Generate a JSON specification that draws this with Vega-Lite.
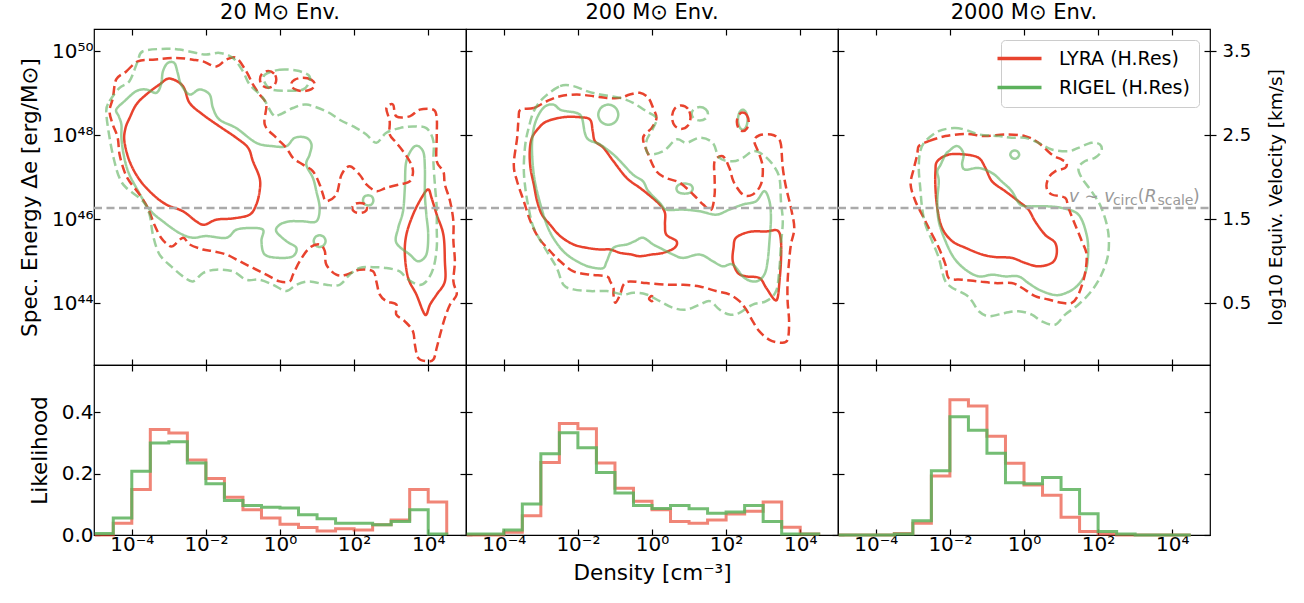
{
"$schema": "https://vega.github.io/schema/vega-lite/v6.json",
"background": "white",
"padding": {"left": 18, "top": 1, "right": 0, "bottom": 0},
"config": {
 "font": "DejaVu Sans",
 "view": {"stroke": "black", "strokeWidth": 1.2},
 "axis": {"domain": false, "grid": false, "tickColor": "black", "tickWidth": 1.2, "labelColor": "black", "titleColor": "black", "labelFont": "DejaVu Sans", "titleFont": "DejaVu Sans", "labelFontSize": 20, "titleFontSize": 21.5, "titleFontWeight": "normal", "labelOverlap": false, "labelFlush": false, "labelBound": false},
 "title": {"font": "DejaVu Sans", "fontSize": 21, "fontWeight": "normal", "color": "black", "offset": 5}
},
"datasets": {
"contours": [
{"p":1,"m":"L","d":"s","g":"1a","x":-2.98,"y":49.35},{"p":1,"m":"L","d":"s","g":"1a","x":-2.62,"y":49.17},{"p":1,"m":"L","d":"s","g":"1a","x":-2.44,"y":48.77},{"p":1,"m":"L","d":"s","g":"1a","x":-2.08,"y":48.49},{"p":1,"m":"L","d":"s","g":"1a","x":-1.63,"y":48.21},{"p":1,"m":"L","d":"s","g":"1a","x":-1.18,"y":47.94},{"p":1,"m":"L","d":"s","g":"1a","x":-0.86,"y":47.70},{"p":1,"m":"L","d":"s","g":"1a","x":-0.73,"y":47.38},{"p":1,"m":"L","d":"s","g":"1a","x":-0.55,"y":46.98},{"p":1,"m":"L","d":"s","g":"1a","x":-0.55,"y":46.67},{"p":1,"m":"L","d":"s","g":"1a","x":-0.64,"y":46.35},{"p":1,"m":"L","d":"s","g":"1a","x":-0.82,"y":46.11},{"p":1,"m":"L","d":"s","g":"1a","x":-1.27,"y":46.02},{"p":1,"m":"L","d":"s","g":"1a","x":-1.72,"y":45.99},{"p":1,"m":"L","d":"s","g":"1a","x":-2.04,"y":45.87},{"p":1,"m":"L","d":"s","g":"1a","x":-2.26,"y":45.95},{"p":1,"m":"L","d":"s","g":"1a","x":-2.62,"y":46.19},{"p":1,"m":"L","d":"s","g":"1a","x":-3.07,"y":46.35},{"p":1,"m":"L","d":"s","g":"1a","x":-3.43,"y":46.59},{"p":1,"m":"L","d":"s","g":"1a","x":-3.79,"y":46.94},{"p":1,"m":"L","d":"s","g":"1a","x":-4.06,"y":47.38},{"p":1,"m":"L","d":"s","g":"1a","x":-4.20,"y":47.86},{"p":1,"m":"L","d":"s","g":"1a","x":-4.17,"y":48.17},{"p":1,"m":"L","d":"s","g":"1a","x":-4.06,"y":48.41},{"p":1,"m":"L","d":"s","g":"1a","x":-3.88,"y":48.73},{"p":1,"m":"L","d":"s","g":"1a","x":-3.61,"y":48.97},{"p":1,"m":"L","d":"s","g":"1a","x":-3.25,"y":49.21},
{"p":1,"m":"L","d":"s","g":"1b","x":4.00,"y":46.71},{"p":1,"m":"L","d":"s","g":"1b","x":4.09,"y":46.51},{"p":1,"m":"L","d":"s","g":"1b","x":4.23,"y":46.11},{"p":1,"m":"L","d":"s","g":"1b","x":4.41,"y":45.63},{"p":1,"m":"L","d":"s","g":"1b","x":4.45,"y":45.00},{"p":1,"m":"L","d":"s","g":"1b","x":4.45,"y":44.52},{"p":1,"m":"L","d":"s","g":"1b","x":4.23,"y":44.21},{"p":1,"m":"L","d":"s","g":"1b","x":4.05,"y":43.97},{"p":1,"m":"L","d":"s","g":"1b","x":3.95,"y":43.73},{"p":1,"m":"L","d":"s","g":"1b","x":3.86,"y":43.81},{"p":1,"m":"L","d":"s","g":"1b","x":3.68,"y":44.21},{"p":1,"m":"L","d":"s","g":"1b","x":3.46,"y":44.60},{"p":1,"m":"L","d":"s","g":"1b","x":3.37,"y":45.16},{"p":1,"m":"L","d":"s","g":"1b","x":3.41,"y":45.63},{"p":1,"m":"L","d":"s","g":"1b","x":3.59,"y":46.11},{"p":1,"m":"L","d":"s","g":"1b","x":3.82,"y":46.51},
{"p":1,"m":"R","d":"s","g":"1c","x":-3.03,"y":49.72},{"p":1,"m":"R","d":"s","g":"1c","x":-2.85,"y":49.72},{"p":1,"m":"R","d":"s","g":"1c","x":-2.76,"y":49.48},{"p":1,"m":"R","d":"s","g":"1c","x":-2.67,"y":49.21},{"p":1,"m":"R","d":"s","g":"1c","x":-2.44,"y":48.97},{"p":1,"m":"R","d":"s","g":"1c","x":-2.17,"y":49.09},{"p":1,"m":"R","d":"s","g":"1c","x":-1.90,"y":48.97},{"p":1,"m":"R","d":"s","g":"1c","x":-1.81,"y":48.65},{"p":1,"m":"R","d":"s","g":"1c","x":-1.63,"y":48.37},{"p":1,"m":"R","d":"s","g":"1c","x":-1.18,"y":48.17},{"p":1,"m":"R","d":"s","g":"1c","x":-0.64,"y":47.82},{"p":1,"m":"R","d":"s","g":"1c","x":-0.19,"y":47.74},{"p":1,"m":"R","d":"s","g":"1c","x":0.17,"y":47.74},{"p":1,"m":"R","d":"s","g":"1c","x":0.40,"y":47.94},{"p":1,"m":"R","d":"s","g":"1c","x":0.71,"y":47.94},{"p":1,"m":"R","d":"s","g":"1c","x":0.85,"y":47.78},{"p":1,"m":"R","d":"s","g":"1c","x":0.80,"y":47.54},{"p":1,"m":"R","d":"s","g":"1c","x":0.71,"y":47.30},{"p":1,"m":"R","d":"s","g":"1c","x":0.89,"y":46.98},{"p":1,"m":"R","d":"s","g":"1c","x":0.98,"y":46.67},{"p":1,"m":"R","d":"s","g":"1c","x":1.07,"y":46.27},{"p":1,"m":"R","d":"s","g":"1c","x":0.98,"y":45.95},{"p":1,"m":"R","d":"s","g":"1c","x":0.62,"y":45.95},{"p":1,"m":"R","d":"s","g":"1c","x":0.26,"y":45.95},{"p":1,"m":"R","d":"s","g":"1c","x":-0.01,"y":45.87},{"p":1,"m":"R","d":"s","g":"1c","x":-0.10,"y":45.71},{"p":1,"m":"R","d":"s","g":"1c","x":0.17,"y":45.48},{"p":1,"m":"R","d":"s","g":"1c","x":0.44,"y":45.32},{"p":1,"m":"R","d":"s","g":"1c","x":0.35,"y":45.12},{"p":1,"m":"R","d":"s","g":"1c","x":-0.01,"y":45.08},{"p":1,"m":"R","d":"s","g":"1c","x":-0.41,"y":45.16},{"p":1,"m":"R","d":"s","g":"1c","x":-0.50,"y":45.48},{"p":1,"m":"R","d":"s","g":"1c","x":-0.46,"y":45.75},{"p":1,"m":"R","d":"s","g":"1c","x":-0.82,"y":45.79},{"p":1,"m":"R","d":"s","g":"1c","x":-1.18,"y":45.75},{"p":1,"m":"R","d":"s","g":"1c","x":-1.45,"y":45.56},{"p":1,"m":"R","d":"s","g":"1c","x":-1.99,"y":45.60},{"p":1,"m":"R","d":"s","g":"1c","x":-2.35,"y":45.56},{"p":1,"m":"R","d":"s","g":"1c","x":-2.71,"y":45.67},{"p":1,"m":"R","d":"s","g":"1c","x":-3.16,"y":45.95},{"p":1,"m":"R","d":"s","g":"1c","x":-3.52,"y":46.23},{"p":1,"m":"R","d":"s","g":"1c","x":-3.88,"y":46.75},{"p":1,"m":"R","d":"s","g":"1c","x":-4.10,"y":47.14},{"p":1,"m":"R","d":"s","g":"1c","x":-4.22,"y":47.54},{"p":1,"m":"R","d":"s","g":"1c","x":-4.28,"y":47.94},{"p":1,"m":"R","d":"s","g":"1c","x":-4.28,"y":48.25},{"p":1,"m":"R","d":"s","g":"1c","x":-4.35,"y":48.45},{"p":1,"m":"R","d":"s","g":"1c","x":-4.42,"y":48.61},{"p":1,"m":"R","d":"s","g":"1c","x":-4.20,"y":48.81},{"p":1,"m":"R","d":"s","g":"1c","x":-3.88,"y":49.05},{"p":1,"m":"R","d":"s","g":"1c","x":-3.61,"y":49.09},{"p":1,"m":"R","d":"s","g":"1c","x":-3.34,"y":49.01},{"p":1,"m":"R","d":"s","g":"1c","x":-3.21,"y":49.21},{"p":1,"m":"R","d":"s","g":"1c","x":-3.16,"y":49.52},
{"p":1,"m":"R","d":"s","g":"1d","x":3.64,"y":47.74},{"p":1,"m":"R","d":"s","g":"1d","x":3.86,"y":47.62},{"p":1,"m":"R","d":"s","g":"1d","x":3.91,"y":47.22},{"p":1,"m":"R","d":"s","g":"1d","x":3.91,"y":46.59},{"p":1,"m":"R","d":"s","g":"1d","x":3.95,"y":46.11},{"p":1,"m":"R","d":"s","g":"1d","x":4.00,"y":45.63},{"p":1,"m":"R","d":"s","g":"1d","x":3.95,"y":45.16},{"p":1,"m":"R","d":"s","g":"1d","x":3.73,"y":45.00},{"p":1,"m":"R","d":"s","g":"1d","x":3.50,"y":45.16},{"p":1,"m":"R","d":"s","g":"1d","x":3.14,"y":45.44},{"p":1,"m":"R","d":"s","g":"1d","x":3.19,"y":45.79},{"p":1,"m":"R","d":"s","g":"1d","x":3.32,"y":46.19},{"p":1,"m":"R","d":"s","g":"1d","x":3.37,"y":46.75},{"p":1,"m":"R","d":"s","g":"1d","x":3.41,"y":47.38},
{"p":1,"m":"R","d":"s","g":"1e","x":2.52,"y":46.45},{"p":1,"m":"R","d":"s","g":"1e","x":2.48,"y":46.54},{"p":1,"m":"R","d":"s","g":"1e","x":2.38,"y":46.57},{"p":1,"m":"R","d":"s","g":"1e","x":2.28,"y":46.54},{"p":1,"m":"R","d":"s","g":"1e","x":2.24,"y":46.45},{"p":1,"m":"R","d":"s","g":"1e","x":2.28,"y":46.36},{"p":1,"m":"R","d":"s","g":"1e","x":2.38,"y":46.33},{"p":1,"m":"R","d":"s","g":"1e","x":2.48,"y":46.36},
{"p":1,"m":"R","d":"s","g":"1f","x":1.23,"y":45.48},{"p":1,"m":"R","d":"s","g":"1f","x":1.18,"y":45.58},{"p":1,"m":"R","d":"s","g":"1f","x":1.07,"y":45.62},{"p":1,"m":"R","d":"s","g":"1f","x":0.96,"y":45.58},{"p":1,"m":"R","d":"s","g":"1f","x":0.91,"y":45.48},{"p":1,"m":"R","d":"s","g":"1f","x":0.96,"y":45.38},{"p":1,"m":"R","d":"s","g":"1f","x":1.07,"y":45.34},{"p":1,"m":"R","d":"s","g":"1f","x":1.18,"y":45.38},
{"p":1,"m":"L","d":"d","g":"1g","x":-4.42,"y":49.33},{"p":1,"m":"L","d":"d","g":"1g","x":-4.15,"y":49.52},{"p":1,"m":"L","d":"d","g":"1g","x":-3.84,"y":49.76},{"p":1,"m":"L","d":"d","g":"1g","x":-3.43,"y":49.80},{"p":1,"m":"L","d":"d","g":"1g","x":-2.80,"y":49.84},{"p":1,"m":"L","d":"d","g":"1g","x":-2.35,"y":49.80},{"p":1,"m":"L","d":"d","g":"1g","x":-2.08,"y":49.76},{"p":1,"m":"L","d":"d","g":"1g","x":-1.72,"y":49.64},{"p":1,"m":"L","d":"d","g":"1g","x":-1.45,"y":49.80},{"p":1,"m":"L","d":"d","g":"1g","x":-1.18,"y":49.84},{"p":1,"m":"L","d":"d","g":"1g","x":-0.91,"y":49.52},{"p":1,"m":"L","d":"d","g":"1g","x":-0.73,"y":49.21},{"p":1,"m":"L","d":"d","g":"1g","x":-0.55,"y":48.97},{"p":1,"m":"L","d":"d","g":"1g","x":-0.37,"y":48.73},{"p":1,"m":"L","d":"d","g":"1g","x":-0.41,"y":48.25},{"p":1,"m":"L","d":"d","g":"1g","x":-0.10,"y":47.94},{"p":1,"m":"L","d":"d","g":"1g","x":0.17,"y":47.70},{"p":1,"m":"L","d":"d","g":"1g","x":0.35,"y":47.46},{"p":1,"m":"L","d":"d","g":"1g","x":0.62,"y":47.30},{"p":1,"m":"L","d":"d","g":"1g","x":0.89,"y":47.14},{"p":1,"m":"L","d":"d","g":"1g","x":1.07,"y":46.83},{"p":1,"m":"L","d":"d","g":"1g","x":1.16,"y":46.59},{"p":1,"m":"L","d":"d","g":"1g","x":1.25,"y":46.43},{"p":1,"m":"L","d":"d","g":"1g","x":1.52,"y":46.59},{"p":1,"m":"L","d":"d","g":"1g","x":1.66,"y":47.06},{"p":1,"m":"L","d":"d","g":"1g","x":1.88,"y":47.26},{"p":1,"m":"L","d":"d","g":"1g","x":2.15,"y":47.06},{"p":1,"m":"L","d":"d","g":"1g","x":2.33,"y":46.83},{"p":1,"m":"L","d":"d","g":"1g","x":2.60,"y":46.67},{"p":1,"m":"L","d":"d","g":"1g","x":2.87,"y":46.75},{"p":1,"m":"L","d":"d","g":"1g","x":3.23,"y":46.83},{"p":1,"m":"L","d":"d","g":"1g","x":3.50,"y":46.90},{"p":1,"m":"L","d":"d","g":"1g","x":3.59,"y":47.14},{"p":1,"m":"L","d":"d","g":"1g","x":3.50,"y":47.38},{"p":1,"m":"L","d":"d","g":"1g","x":3.32,"y":47.62},{"p":1,"m":"L","d":"d","g":"1g","x":3.14,"y":47.82},{"p":1,"m":"L","d":"d","g":"1g","x":2.96,"y":48.02},{"p":1,"m":"L","d":"d","g":"1g","x":2.96,"y":48.33},{"p":1,"m":"L","d":"d","g":"1g","x":2.87,"y":48.65},{"p":1,"m":"L","d":"d","g":"1g","x":3.05,"y":48.73},{"p":1,"m":"L","d":"d","g":"1g","x":3.14,"y":48.45},{"p":1,"m":"L","d":"d","g":"1g","x":3.50,"y":48.45},{"p":1,"m":"L","d":"d","g":"1g","x":3.77,"y":48.61},{"p":1,"m":"L","d":"d","g":"1g","x":4.14,"y":48.61},{"p":1,"m":"L","d":"d","g":"1g","x":4.23,"y":48.41},{"p":1,"m":"L","d":"d","g":"1g","x":4.23,"y":47.94},{"p":1,"m":"L","d":"d","g":"1g","x":4.23,"y":47.38},{"p":1,"m":"L","d":"d","g":"1g","x":4.41,"y":47.14},{"p":1,"m":"L","d":"d","g":"1g","x":4.45,"y":46.83},{"p":1,"m":"L","d":"d","g":"1g","x":4.59,"y":46.43},{"p":1,"m":"L","d":"d","g":"1g","x":4.68,"y":45.95},{"p":1,"m":"L","d":"d","g":"1g","x":4.68,"y":45.48},{"p":1,"m":"L","d":"d","g":"1g","x":4.72,"y":45.00},{"p":1,"m":"L","d":"d","g":"1g","x":4.68,"y":44.52},{"p":1,"m":"L","d":"d","g":"1g","x":4.77,"y":44.21},{"p":1,"m":"L","d":"d","g":"1g","x":4.59,"y":43.97},{"p":1,"m":"L","d":"d","g":"1g","x":4.45,"y":43.65},{"p":1,"m":"L","d":"d","g":"1g","x":4.32,"y":43.25},{"p":1,"m":"L","d":"d","g":"1g","x":4.23,"y":42.94},{"p":1,"m":"L","d":"d","g":"1g","x":4.14,"y":42.66},{"p":1,"m":"L","d":"d","g":"1g","x":3.95,"y":42.62},{"p":1,"m":"L","d":"d","g":"1g","x":3.73,"y":42.70},{"p":1,"m":"L","d":"d","g":"1g","x":3.64,"y":43.02},{"p":1,"m":"L","d":"d","g":"1g","x":3.59,"y":43.33},{"p":1,"m":"L","d":"d","g":"1g","x":3.37,"y":43.57},{"p":1,"m":"L","d":"d","g":"1g","x":3.14,"y":43.73},{"p":1,"m":"L","d":"d","g":"1g","x":3.14,"y":43.97},{"p":1,"m":"L","d":"d","g":"1g","x":2.87,"y":44.05},{"p":1,"m":"L","d":"d","g":"1g","x":2.69,"y":44.21},{"p":1,"m":"L","d":"d","g":"1g","x":2.60,"y":44.52},{"p":1,"m":"L","d":"d","g":"1g","x":2.51,"y":44.76},{"p":1,"m":"L","d":"d","g":"1g","x":2.15,"y":44.80},{"p":1,"m":"L","d":"d","g":"1g","x":1.79,"y":44.68},{"p":1,"m":"L","d":"d","g":"1g","x":1.52,"y":44.68},{"p":1,"m":"L","d":"d","g":"1g","x":1.25,"y":44.92},{"p":1,"m":"L","d":"d","g":"1g","x":1.21,"y":45.24},{"p":1,"m":"L","d":"d","g":"1g","x":1.07,"y":45.40},{"p":1,"m":"L","d":"d","g":"1g","x":0.80,"y":45.32},{"p":1,"m":"L","d":"d","g":"1g","x":0.53,"y":45.00},{"p":1,"m":"L","d":"d","g":"1g","x":0.35,"y":44.68},{"p":1,"m":"L","d":"d","g":"1g","x":0.26,"y":44.52},{"p":1,"m":"L","d":"d","g":"1g","x":-0.01,"y":44.52},{"p":1,"m":"L","d":"d","g":"1g","x":-0.37,"y":44.68},{"p":1,"m":"L","d":"d","g":"1g","x":-0.73,"y":44.84},{"p":1,"m":"L","d":"d","g":"1g","x":-1.09,"y":45.00},{"p":1,"m":"L","d":"d","g":"1g","x":-1.45,"y":45.16},{"p":1,"m":"L","d":"d","g":"1g","x":-1.81,"y":45.24},{"p":1,"m":"L","d":"d","g":"1g","x":-2.08,"y":45.28},{"p":1,"m":"L","d":"d","g":"1g","x":-2.44,"y":45.40},{"p":1,"m":"L","d":"d","g":"1g","x":-2.62,"y":45.56},{"p":1,"m":"L","d":"d","g":"1g","x":-2.89,"y":45.36},{"p":1,"m":"L","d":"d","g":"1g","x":-3.03,"y":45.40},{"p":1,"m":"L","d":"d","g":"1g","x":-3.21,"y":45.56},{"p":1,"m":"L","d":"d","g":"1g","x":-3.39,"y":45.87},{"p":1,"m":"L","d":"d","g":"1g","x":-3.57,"y":46.27},{"p":1,"m":"L","d":"d","g":"1g","x":-3.79,"y":46.59},{"p":1,"m":"L","d":"d","g":"1g","x":-4.06,"y":46.90},{"p":1,"m":"L","d":"d","g":"1g","x":-4.20,"y":47.14},{"p":1,"m":"L","d":"d","g":"1g","x":-4.33,"y":47.54},{"p":1,"m":"L","d":"d","g":"1g","x":-4.38,"y":47.94},{"p":1,"m":"L","d":"d","g":"1g","x":-4.51,"y":48.25},{"p":1,"m":"L","d":"d","g":"1g","x":-4.60,"y":48.57},{"p":1,"m":"L","d":"d","g":"1g","x":-4.51,"y":48.89},
{"p":1,"m":"L","d":"d","g":"1h","x":-0.10,"y":49.33},{"p":1,"m":"L","d":"d","g":"1h","x":-0.16,"y":49.47},{"p":1,"m":"L","d":"d","g":"1h","x":-0.32,"y":49.53},{"p":1,"m":"L","d":"d","g":"1h","x":-0.48,"y":49.47},{"p":1,"m":"L","d":"d","g":"1h","x":-0.54,"y":49.33},{"p":1,"m":"L","d":"d","g":"1h","x":-0.48,"y":49.19},{"p":1,"m":"L","d":"d","g":"1h","x":-0.32,"y":49.13},{"p":1,"m":"L","d":"d","g":"1h","x":-0.16,"y":49.19},
{"p":1,"m":"L","d":"d","g":"1i","x":0.94,"y":49.21},{"p":1,"m":"L","d":"d","g":"1i","x":0.85,"y":49.32},{"p":1,"m":"L","d":"d","g":"1i","x":0.62,"y":49.37},{"p":1,"m":"L","d":"d","g":"1i","x":0.39,"y":49.32},{"p":1,"m":"L","d":"d","g":"1i","x":0.30,"y":49.21},{"p":1,"m":"L","d":"d","g":"1i","x":0.39,"y":49.10},{"p":1,"m":"L","d":"d","g":"1i","x":0.62,"y":49.05},{"p":1,"m":"L","d":"d","g":"1i","x":0.85,"y":49.10},
{"p":1,"m":"L","d":"d","g":"1j","x":2.35,"y":46.27},{"p":1,"m":"L","d":"d","g":"1j","x":2.29,"y":46.36},{"p":1,"m":"L","d":"d","g":"1j","x":2.15,"y":46.39},{"p":1,"m":"L","d":"d","g":"1j","x":2.01,"y":46.36},{"p":1,"m":"L","d":"d","g":"1j","x":1.95,"y":46.27},{"p":1,"m":"L","d":"d","g":"1j","x":2.01,"y":46.18},{"p":1,"m":"L","d":"d","g":"1j","x":2.15,"y":46.15},{"p":1,"m":"L","d":"d","g":"1j","x":2.29,"y":46.18},
{"p":1,"m":"R","d":"d","g":"1k","x":-4.69,"y":48.57},{"p":1,"m":"R","d":"d","g":"1k","x":-4.60,"y":48.81},{"p":1,"m":"R","d":"d","g":"1k","x":-4.33,"y":49.13},{"p":1,"m":"R","d":"d","g":"1k","x":-4.06,"y":49.29},{"p":1,"m":"R","d":"d","g":"1k","x":-3.84,"y":49.76},{"p":1,"m":"R","d":"d","g":"1k","x":-3.70,"y":50.00},{"p":1,"m":"R","d":"d","g":"1k","x":-3.07,"y":50.06},{"p":1,"m":"R","d":"d","g":"1k","x":-2.71,"y":50.04},{"p":1,"m":"R","d":"d","g":"1k","x":-2.26,"y":49.96},{"p":1,"m":"R","d":"d","g":"1k","x":-1.99,"y":49.92},{"p":1,"m":"R","d":"d","g":"1k","x":-1.63,"y":49.96},{"p":1,"m":"R","d":"d","g":"1k","x":-1.27,"y":49.84},{"p":1,"m":"R","d":"d","g":"1k","x":-1.00,"y":49.52},{"p":1,"m":"R","d":"d","g":"1k","x":-0.82,"y":49.21},{"p":1,"m":"R","d":"d","g":"1k","x":-0.46,"y":48.89},{"p":1,"m":"R","d":"d","g":"1k","x":-0.19,"y":48.49},{"p":1,"m":"R","d":"d","g":"1k","x":-0.01,"y":48.49},{"p":1,"m":"R","d":"d","g":"1k","x":0.35,"y":48.65},{"p":1,"m":"R","d":"d","g":"1k","x":0.71,"y":48.73},{"p":1,"m":"R","d":"d","g":"1k","x":1.25,"y":48.57},{"p":1,"m":"R","d":"d","g":"1k","x":1.61,"y":48.37},{"p":1,"m":"R","d":"d","g":"1k","x":2.06,"y":48.17},{"p":1,"m":"R","d":"d","g":"1k","x":2.33,"y":48.02},{"p":1,"m":"R","d":"d","g":"1k","x":2.60,"y":47.82},{"p":1,"m":"R","d":"d","g":"1k","x":2.87,"y":48.06},{"p":1,"m":"R","d":"d","g":"1k","x":3.23,"y":48.17},{"p":1,"m":"R","d":"d","g":"1k","x":3.59,"y":48.21},{"p":1,"m":"R","d":"d","g":"1k","x":3.95,"y":48.17},{"p":1,"m":"R","d":"d","g":"1k","x":4.14,"y":47.86},{"p":1,"m":"R","d":"d","g":"1k","x":4.14,"y":47.38},{"p":1,"m":"R","d":"d","g":"1k","x":4.18,"y":46.83},{"p":1,"m":"R","d":"d","g":"1k","x":4.23,"y":46.27},{"p":1,"m":"R","d":"d","g":"1k","x":4.23,"y":45.79},{"p":1,"m":"R","d":"d","g":"1k","x":4.23,"y":45.32},{"p":1,"m":"R","d":"d","g":"1k","x":4.14,"y":44.84},{"p":1,"m":"R","d":"d","g":"1k","x":3.95,"y":44.52},{"p":1,"m":"R","d":"d","g":"1k","x":3.73,"y":44.44},{"p":1,"m":"R","d":"d","g":"1k","x":3.41,"y":44.60},{"p":1,"m":"R","d":"d","g":"1k","x":3.23,"y":44.76},{"p":1,"m":"R","d":"d","g":"1k","x":2.87,"y":44.84},{"p":1,"m":"R","d":"d","g":"1k","x":2.51,"y":44.86},{"p":1,"m":"R","d":"d","g":"1k","x":2.15,"y":44.84},{"p":1,"m":"R","d":"d","g":"1k","x":1.88,"y":44.68},{"p":1,"m":"R","d":"d","g":"1k","x":1.61,"y":44.44},{"p":1,"m":"R","d":"d","g":"1k","x":1.25,"y":44.44},{"p":1,"m":"R","d":"d","g":"1k","x":0.80,"y":44.52},{"p":1,"m":"R","d":"d","g":"1k","x":0.44,"y":44.44},{"p":1,"m":"R","d":"d","g":"1k","x":0.17,"y":44.29},{"p":1,"m":"R","d":"d","g":"1k","x":-0.19,"y":44.44},{"p":1,"m":"R","d":"d","g":"1k","x":-0.55,"y":44.56},{"p":1,"m":"R","d":"d","g":"1k","x":-0.91,"y":44.56},{"p":1,"m":"R","d":"d","g":"1k","x":-1.27,"y":44.76},{"p":1,"m":"R","d":"d","g":"1k","x":-1.72,"y":44.80},{"p":1,"m":"R","d":"d","g":"1k","x":-2.08,"y":44.72},{"p":1,"m":"R","d":"d","g":"1k","x":-2.35,"y":44.52},{"p":1,"m":"R","d":"d","g":"1k","x":-2.62,"y":44.64},{"p":1,"m":"R","d":"d","g":"1k","x":-2.89,"y":44.84},{"p":1,"m":"R","d":"d","g":"1k","x":-3.25,"y":45.16},{"p":1,"m":"R","d":"d","g":"1k","x":-3.43,"y":45.63},{"p":1,"m":"R","d":"d","g":"1k","x":-3.52,"y":46.11},{"p":1,"m":"R","d":"d","g":"1k","x":-3.70,"y":46.43},{"p":1,"m":"R","d":"d","g":"1k","x":-4.15,"y":46.75},{"p":1,"m":"R","d":"d","g":"1k","x":-4.33,"y":46.98},{"p":1,"m":"R","d":"d","g":"1k","x":-4.47,"y":47.38},{"p":1,"m":"R","d":"d","g":"1k","x":-4.60,"y":47.94},
{"p":1,"m":"R","d":"d","g":"1l","x":-0.41,"y":49.44},{"p":1,"m":"R","d":"d","g":"1l","x":-0.01,"y":49.56},{"p":1,"m":"R","d":"d","g":"1l","x":0.44,"y":49.54},{"p":1,"m":"R","d":"d","g":"1l","x":0.76,"y":49.44},{"p":1,"m":"R","d":"d","g":"1l","x":0.80,"y":49.29},{"p":1,"m":"R","d":"d","g":"1l","x":0.62,"y":49.09},{"p":1,"m":"R","d":"d","g":"1l","x":0.17,"y":49.06},{"p":1,"m":"R","d":"d","g":"1l","x":-0.23,"y":49.09},{"p":1,"m":"R","d":"d","g":"1l","x":-0.41,"y":49.25},
{"p":2,"m":"L","d":"s","g":"2a","x":-2.84,"y":48.33},{"p":2,"m":"L","d":"s","g":"2a","x":-2.39,"y":48.43},{"p":2,"m":"L","d":"s","g":"2a","x":-1.94,"y":48.43},{"p":2,"m":"L","d":"s","g":"2a","x":-1.67,"y":48.37},{"p":2,"m":"L","d":"s","g":"2a","x":-1.60,"y":48.10},{"p":2,"m":"L","d":"s","g":"2a","x":-1.54,"y":47.86},{"p":2,"m":"L","d":"s","g":"2a","x":-1.31,"y":47.70},{"p":2,"m":"L","d":"s","g":"2a","x":-1.04,"y":47.38},{"p":2,"m":"L","d":"s","g":"2a","x":-0.68,"y":46.98},{"p":2,"m":"L","d":"s","g":"2a","x":-0.33,"y":46.75},{"p":2,"m":"L","d":"s","g":"2a","x":-0.10,"y":46.59},{"p":2,"m":"L","d":"s","g":"2a","x":0.21,"y":46.35},{"p":2,"m":"L","d":"s","g":"2a","x":0.35,"y":46.15},{"p":2,"m":"L","d":"s","g":"2a","x":0.35,"y":45.87},{"p":2,"m":"L","d":"s","g":"2a","x":0.39,"y":45.63},{"p":2,"m":"L","d":"s","g":"2a","x":0.66,"y":45.48},{"p":2,"m":"L","d":"s","g":"2a","x":0.61,"y":45.32},{"p":2,"m":"L","d":"s","g":"2a","x":0.30,"y":45.20},{"p":2,"m":"L","d":"s","g":"2a","x":-0.01,"y":45.16},{"p":2,"m":"L","d":"s","g":"2a","x":-0.33,"y":45.12},{"p":2,"m":"L","d":"s","g":"2a","x":-0.55,"y":45.16},{"p":2,"m":"L","d":"s","g":"2a","x":-0.86,"y":45.20},{"p":2,"m":"L","d":"s","g":"2a","x":-1.13,"y":45.28},{"p":2,"m":"L","d":"s","g":"2a","x":-1.40,"y":45.28},{"p":2,"m":"L","d":"s","g":"2a","x":-1.76,"y":45.32},{"p":2,"m":"L","d":"s","g":"2a","x":-2.12,"y":45.40},{"p":2,"m":"L","d":"s","g":"2a","x":-2.48,"y":45.60},{"p":2,"m":"L","d":"s","g":"2a","x":-2.75,"y":45.87},{"p":2,"m":"L","d":"s","g":"2a","x":-2.97,"y":46.11},{"p":2,"m":"L","d":"s","g":"2a","x":-3.10,"y":46.43},{"p":2,"m":"L","d":"s","g":"2a","x":-3.19,"y":46.83},{"p":2,"m":"L","d":"s","g":"2a","x":-3.28,"y":47.22},{"p":2,"m":"L","d":"s","g":"2a","x":-3.30,"y":47.62},{"p":2,"m":"L","d":"s","g":"2a","x":-3.24,"y":47.94},{"p":2,"m":"L","d":"s","g":"2a","x":-3.06,"y":48.17},
{"p":2,"m":"L","d":"s","g":"2b","x":2.27,"y":45.56},{"p":2,"m":"L","d":"s","g":"2b","x":2.63,"y":45.70},{"p":2,"m":"L","d":"s","g":"2b","x":3.08,"y":45.71},{"p":2,"m":"L","d":"s","g":"2b","x":3.39,"y":45.73},{"p":2,"m":"L","d":"s","g":"2b","x":3.48,"y":45.48},{"p":2,"m":"L","d":"s","g":"2b","x":3.48,"y":45.00},{"p":2,"m":"L","d":"s","g":"2b","x":3.44,"y":44.52},{"p":2,"m":"L","d":"s","g":"2b","x":3.39,"y":44.13},{"p":2,"m":"L","d":"s","g":"2b","x":3.30,"y":44.09},{"p":2,"m":"L","d":"s","g":"2b","x":3.08,"y":44.37},{"p":2,"m":"L","d":"s","g":"2b","x":2.90,"y":44.60},{"p":2,"m":"L","d":"s","g":"2b","x":2.54,"y":44.64},{"p":2,"m":"L","d":"s","g":"2b","x":2.32,"y":44.72},{"p":2,"m":"L","d":"s","g":"2b","x":2.18,"y":45.00},{"p":2,"m":"L","d":"s","g":"2b","x":2.20,"y":45.32},
{"p":2,"m":"R","d":"s","g":"2c","x":-2.66,"y":48.73},{"p":2,"m":"R","d":"s","g":"2c","x":-2.48,"y":48.61},{"p":2,"m":"R","d":"s","g":"2c","x":-2.30,"y":48.57},{"p":2,"m":"R","d":"s","g":"2c","x":-2.03,"y":48.53},{"p":2,"m":"R","d":"s","g":"2c","x":-1.89,"y":48.41},{"p":2,"m":"R","d":"s","g":"2c","x":-1.76,"y":47.94},{"p":2,"m":"R","d":"s","g":"2c","x":-1.40,"y":47.78},{"p":2,"m":"R","d":"s","g":"2c","x":-1.04,"y":47.54},{"p":2,"m":"R","d":"s","g":"2c","x":-0.77,"y":47.30},{"p":2,"m":"R","d":"s","g":"2c","x":-0.51,"y":47.06},{"p":2,"m":"R","d":"s","g":"2c","x":-0.24,"y":46.90},{"p":2,"m":"R","d":"s","g":"2c","x":-0.10,"y":46.67},{"p":2,"m":"R","d":"s","g":"2c","x":0.21,"y":46.39},{"p":2,"m":"R","d":"s","g":"2c","x":0.39,"y":46.23},{"p":2,"m":"R","d":"s","g":"2c","x":0.84,"y":46.23},{"p":2,"m":"R","d":"s","g":"2c","x":1.29,"y":46.19},{"p":2,"m":"R","d":"s","g":"2c","x":1.73,"y":46.11},{"p":2,"m":"R","d":"s","g":"2c","x":2.09,"y":46.23},{"p":2,"m":"R","d":"s","g":"2c","x":2.45,"y":46.35},{"p":2,"m":"R","d":"s","g":"2c","x":2.81,"y":46.43},{"p":2,"m":"R","d":"s","g":"2c","x":3.03,"y":46.67},{"p":2,"m":"R","d":"s","g":"2c","x":3.17,"y":46.43},{"p":2,"m":"R","d":"s","g":"2c","x":3.21,"y":46.03},{"p":2,"m":"R","d":"s","g":"2c","x":3.17,"y":45.48},{"p":2,"m":"R","d":"s","g":"2c","x":3.12,"y":45.00},{"p":2,"m":"R","d":"s","g":"2c","x":3.03,"y":44.68},{"p":2,"m":"R","d":"s","g":"2c","x":2.81,"y":44.52},{"p":2,"m":"R","d":"s","g":"2c","x":2.50,"y":44.60},{"p":2,"m":"R","d":"s","g":"2c","x":2.18,"y":44.92},{"p":2,"m":"R","d":"s","g":"2c","x":1.91,"y":44.88},{"p":2,"m":"R","d":"s","g":"2c","x":1.64,"y":45.00},{"p":2,"m":"R","d":"s","g":"2c","x":1.29,"y":45.16},{"p":2,"m":"R","d":"s","g":"2c","x":0.84,"y":45.08},{"p":2,"m":"R","d":"s","g":"2c","x":0.57,"y":45.16},{"p":2,"m":"R","d":"s","g":"2c","x":0.21,"y":45.32},{"p":2,"m":"R","d":"s","g":"2c","x":0.03,"y":45.40},{"p":2,"m":"R","d":"s","g":"2c","x":-0.24,"y":45.56},{"p":2,"m":"R","d":"s","g":"2c","x":-0.46,"y":45.48},{"p":2,"m":"R","d":"s","g":"2c","x":-0.68,"y":45.40},{"p":2,"m":"R","d":"s","g":"2c","x":-1.04,"y":45.32},{"p":2,"m":"R","d":"s","g":"2c","x":-1.22,"y":45.00},{"p":2,"m":"R","d":"s","g":"2c","x":-1.31,"y":44.84},{"p":2,"m":"R","d":"s","g":"2c","x":-1.54,"y":44.84},{"p":2,"m":"R","d":"s","g":"2c","x":-1.85,"y":44.92},{"p":2,"m":"R","d":"s","g":"2c","x":-2.30,"y":45.16},{"p":2,"m":"R","d":"s","g":"2c","x":-2.61,"y":45.48},{"p":2,"m":"R","d":"s","g":"2c","x":-2.84,"y":45.87},{"p":2,"m":"R","d":"s","g":"2c","x":-3.06,"y":46.51},{"p":2,"m":"R","d":"s","g":"2c","x":-3.19,"y":47.06},{"p":2,"m":"R","d":"s","g":"2c","x":-3.24,"y":47.70},{"p":2,"m":"R","d":"s","g":"2c","x":-3.19,"y":48.17},{"p":2,"m":"R","d":"s","g":"2c","x":-3.06,"y":48.49},{"p":2,"m":"R","d":"s","g":"2c","x":-2.88,"y":48.69},
{"p":2,"m":"R","d":"s","g":"2d","x":-0.91,"y":48.49},{"p":2,"m":"R","d":"s","g":"2d","x":-0.99,"y":48.66},{"p":2,"m":"R","d":"s","g":"2d","x":-1.18,"y":48.73},{"p":2,"m":"R","d":"s","g":"2d","x":-1.37,"y":48.66},{"p":2,"m":"R","d":"s","g":"2d","x":-1.45,"y":48.49},{"p":2,"m":"R","d":"s","g":"2d","x":-1.37,"y":48.32},{"p":2,"m":"R","d":"s","g":"2d","x":-1.18,"y":48.25},{"p":2,"m":"R","d":"s","g":"2d","x":-0.99,"y":48.32},
{"p":2,"m":"R","d":"s","g":"2e","x":1.10,"y":46.73},{"p":2,"m":"R","d":"s","g":"2e","x":1.04,"y":46.82},{"p":2,"m":"R","d":"s","g":"2e","x":0.88,"y":46.85},{"p":2,"m":"R","d":"s","g":"2e","x":0.72,"y":46.82},{"p":2,"m":"R","d":"s","g":"2e","x":0.66,"y":46.73},{"p":2,"m":"R","d":"s","g":"2e","x":0.72,"y":46.64},{"p":2,"m":"R","d":"s","g":"2e","x":0.88,"y":46.61},{"p":2,"m":"R","d":"s","g":"2e","x":1.04,"y":46.64},
{"p":2,"m":"R","d":"s","g":"2f","x":2.58,"y":48.37},{"p":2,"m":"R","d":"s","g":"2f","x":2.54,"y":48.54},{"p":2,"m":"R","d":"s","g":"2f","x":2.45,"y":48.61},{"p":2,"m":"R","d":"s","g":"2f","x":2.36,"y":48.54},{"p":2,"m":"R","d":"s","g":"2f","x":2.32,"y":48.37},{"p":2,"m":"R","d":"s","g":"2f","x":2.36,"y":48.20},{"p":2,"m":"R","d":"s","g":"2f","x":2.45,"y":48.13},{"p":2,"m":"R","d":"s","g":"2f","x":2.54,"y":48.20},
{"p":2,"m":"R","d":"d","g":"2g","x":1.51,"y":48.51},{"p":2,"m":"R","d":"d","g":"2g","x":1.45,"y":48.62},{"p":2,"m":"R","d":"d","g":"2g","x":1.29,"y":48.67},{"p":2,"m":"R","d":"d","g":"2g","x":1.13,"y":48.62},{"p":2,"m":"R","d":"d","g":"2g","x":1.07,"y":48.51},{"p":2,"m":"R","d":"d","g":"2g","x":1.13,"y":48.40},{"p":2,"m":"R","d":"d","g":"2g","x":1.29,"y":48.35},{"p":2,"m":"R","d":"d","g":"2g","x":1.45,"y":48.40},
{"p":2,"m":"L","d":"d","g":"2h","x":-3.55,"y":48.61},{"p":2,"m":"L","d":"d","g":"2h","x":-3.19,"y":48.65},{"p":2,"m":"L","d":"d","g":"2h","x":-2.84,"y":48.81},{"p":2,"m":"L","d":"d","g":"2h","x":-2.48,"y":48.93},{"p":2,"m":"L","d":"d","g":"2h","x":-2.03,"y":48.97},{"p":2,"m":"L","d":"d","g":"2h","x":-1.58,"y":48.93},{"p":2,"m":"L","d":"d","g":"2h","x":-1.22,"y":48.89},{"p":2,"m":"L","d":"d","g":"2h","x":-0.86,"y":48.89},{"p":2,"m":"L","d":"d","g":"2h","x":-0.60,"y":48.97},{"p":2,"m":"L","d":"d","g":"2h","x":-0.33,"y":49.01},{"p":2,"m":"L","d":"d","g":"2h","x":-0.10,"y":48.89},{"p":2,"m":"L","d":"d","g":"2h","x":0.03,"y":48.65},{"p":2,"m":"L","d":"d","g":"2h","x":0.12,"y":48.41},{"p":2,"m":"L","d":"d","g":"2h","x":-0.01,"y":48.17},{"p":2,"m":"L","d":"d","g":"2h","x":-0.24,"y":47.94},{"p":2,"m":"L","d":"d","g":"2h","x":-0.10,"y":47.54},{"p":2,"m":"L","d":"d","g":"2h","x":0.12,"y":47.14},{"p":2,"m":"L","d":"d","g":"2h","x":0.39,"y":46.98},{"p":2,"m":"L","d":"d","g":"2h","x":0.75,"y":46.87},{"p":2,"m":"L","d":"d","g":"2h","x":1.11,"y":46.59},{"p":2,"m":"L","d":"d","g":"2h","x":1.38,"y":46.35},{"p":2,"m":"L","d":"d","g":"2h","x":1.60,"y":46.23},{"p":2,"m":"L","d":"d","g":"2h","x":1.69,"y":46.59},{"p":2,"m":"L","d":"d","g":"2h","x":1.69,"y":46.98},{"p":2,"m":"L","d":"d","g":"2h","x":1.69,"y":47.38},{"p":2,"m":"L","d":"d","g":"2h","x":1.91,"y":47.50},{"p":2,"m":"L","d":"d","g":"2h","x":2.09,"y":47.22},{"p":2,"m":"L","d":"d","g":"2h","x":2.20,"y":46.90},{"p":2,"m":"L","d":"d","g":"2h","x":2.45,"y":46.59},{"p":2,"m":"L","d":"d","g":"2h","x":2.72,"y":46.59},{"p":2,"m":"L","d":"d","g":"2h","x":2.94,"y":46.83},{"p":2,"m":"L","d":"d","g":"2h","x":2.99,"y":47.22},{"p":2,"m":"L","d":"d","g":"2h","x":2.90,"y":47.54},{"p":2,"m":"L","d":"d","g":"2h","x":2.76,"y":47.86},{"p":2,"m":"L","d":"d","g":"2h","x":2.90,"y":48.00},{"p":2,"m":"L","d":"d","g":"2h","x":3.21,"y":48.02},{"p":2,"m":"L","d":"d","g":"2h","x":3.39,"y":47.94},{"p":2,"m":"L","d":"d","g":"2h","x":3.48,"y":47.78},{"p":2,"m":"L","d":"d","g":"2h","x":3.53,"y":47.22},{"p":2,"m":"L","d":"d","g":"2h","x":3.62,"y":46.75},{"p":2,"m":"L","d":"d","g":"2h","x":3.75,"y":46.27},{"p":2,"m":"L","d":"d","g":"2h","x":3.84,"y":45.79},{"p":2,"m":"L","d":"d","g":"2h","x":3.75,"y":45.40},{"p":2,"m":"L","d":"d","g":"2h","x":3.70,"y":45.00},{"p":2,"m":"L","d":"d","g":"2h","x":3.66,"y":44.52},{"p":2,"m":"L","d":"d","g":"2h","x":3.66,"y":44.05},{"p":2,"m":"L","d":"d","g":"2h","x":3.70,"y":43.57},{"p":2,"m":"L","d":"d","g":"2h","x":3.66,"y":43.13},{"p":2,"m":"L","d":"d","g":"2h","x":3.48,"y":43.06},{"p":2,"m":"L","d":"d","g":"2h","x":3.17,"y":43.13},{"p":2,"m":"L","d":"d","g":"2h","x":2.90,"y":43.33},{"p":2,"m":"L","d":"d","g":"2h","x":2.72,"y":43.57},{"p":2,"m":"L","d":"d","g":"2h","x":2.54,"y":43.85},{"p":2,"m":"L","d":"d","g":"2h","x":2.36,"y":44.05},{"p":2,"m":"L","d":"d","g":"2h","x":2.09,"y":44.21},{"p":2,"m":"L","d":"d","g":"2h","x":1.73,"y":44.29},{"p":2,"m":"L","d":"d","g":"2h","x":1.29,"y":44.40},{"p":2,"m":"L","d":"d","g":"2h","x":0.84,"y":44.44},{"p":2,"m":"L","d":"d","g":"2h","x":0.39,"y":44.44},{"p":2,"m":"L","d":"d","g":"2h","x":-0.15,"y":44.48},{"p":2,"m":"L","d":"d","g":"2h","x":-0.60,"y":44.52},{"p":2,"m":"L","d":"d","g":"2h","x":-0.77,"y":44.44},{"p":2,"m":"L","d":"d","g":"2h","x":-0.86,"y":44.21},{"p":2,"m":"L","d":"d","g":"2h","x":-0.99,"y":44.01},{"p":2,"m":"L","d":"d","g":"2h","x":-1.04,"y":44.21},{"p":2,"m":"L","d":"d","g":"2h","x":-1.04,"y":44.37},{"p":2,"m":"L","d":"d","g":"2h","x":-1.13,"y":44.52},{"p":2,"m":"L","d":"d","g":"2h","x":-1.22,"y":44.64},{"p":2,"m":"L","d":"d","g":"2h","x":-1.67,"y":44.68},{"p":2,"m":"L","d":"d","g":"2h","x":-2.12,"y":44.76},{"p":2,"m":"L","d":"d","g":"2h","x":-2.48,"y":45.00},{"p":2,"m":"L","d":"d","g":"2h","x":-2.75,"y":45.24},{"p":2,"m":"L","d":"d","g":"2h","x":-3.06,"y":45.56},{"p":2,"m":"L","d":"d","g":"2h","x":-3.28,"y":45.95},{"p":2,"m":"L","d":"d","g":"2h","x":-3.46,"y":46.43},{"p":2,"m":"L","d":"d","g":"2h","x":-3.64,"y":46.90},{"p":2,"m":"L","d":"d","g":"2h","x":-3.73,"y":47.30},{"p":2,"m":"L","d":"d","g":"2h","x":-3.64,"y":47.94},{"p":2,"m":"L","d":"d","g":"2h","x":-3.60,"y":48.41},
{"p":2,"m":"L","d":"d","g":"2i","x":1.04,"y":48.43},{"p":2,"m":"L","d":"d","g":"2i","x":0.97,"y":48.63},{"p":2,"m":"L","d":"d","g":"2i","x":0.79,"y":48.71},{"p":2,"m":"L","d":"d","g":"2i","x":0.61,"y":48.63},{"p":2,"m":"L","d":"d","g":"2i","x":0.54,"y":48.43},{"p":2,"m":"L","d":"d","g":"2i","x":0.61,"y":48.23},{"p":2,"m":"L","d":"d","g":"2i","x":0.79,"y":48.15},{"p":2,"m":"L","d":"d","g":"2i","x":0.97,"y":48.23},
{"p":2,"m":"L","d":"d","g":"2j","x":2.61,"y":48.32},{"p":2,"m":"L","d":"d","g":"2j","x":2.56,"y":48.48},{"p":2,"m":"L","d":"d","g":"2j","x":2.45,"y":48.54},{"p":2,"m":"L","d":"d","g":"2j","x":2.34,"y":48.48},{"p":2,"m":"L","d":"d","g":"2j","x":2.29,"y":48.32},{"p":2,"m":"L","d":"d","g":"2j","x":2.34,"y":48.16},{"p":2,"m":"L","d":"d","g":"2j","x":2.45,"y":48.10},{"p":2,"m":"L","d":"d","g":"2j","x":2.56,"y":48.16},
{"p":2,"m":"L","d":"d","g":"2k","x":0.06,"y":44.11},{"p":2,"m":"L","d":"d","g":"2k","x":-0.01,"y":44.17},{"p":2,"m":"L","d":"d","g":"2k","x":-0.08,"y":44.11},{"p":2,"m":"L","d":"d","g":"2k","x":-0.01,"y":44.05},
{"p":2,"m":"R","d":"d","g":"2l","x":-2.93,"y":48.89},{"p":2,"m":"R","d":"d","g":"2l","x":-2.48,"y":49.17},{"p":2,"m":"R","d":"d","g":"2l","x":-2.12,"y":49.17},{"p":2,"m":"R","d":"d","g":"2l","x":-1.76,"y":49.05},{"p":2,"m":"R","d":"d","g":"2l","x":-1.40,"y":48.97},{"p":2,"m":"R","d":"d","g":"2l","x":-0.86,"y":48.89},{"p":2,"m":"R","d":"d","g":"2l","x":-0.51,"y":48.77},{"p":2,"m":"R","d":"d","g":"2l","x":-0.15,"y":48.57},{"p":2,"m":"R","d":"d","g":"2l","x":0.12,"y":48.41},{"p":2,"m":"R","d":"d","g":"2l","x":0.03,"y":48.17},{"p":2,"m":"R","d":"d","g":"2l","x":-0.15,"y":47.86},{"p":2,"m":"R","d":"d","g":"2l","x":-0.10,"y":47.56},{"p":2,"m":"R","d":"d","g":"2l","x":0.30,"y":47.62},{"p":2,"m":"R","d":"d","g":"2l","x":0.66,"y":47.90},{"p":2,"m":"R","d":"d","g":"2l","x":0.93,"y":47.82},{"p":2,"m":"R","d":"d","g":"2l","x":1.29,"y":47.94},{"p":2,"m":"R","d":"d","g":"2l","x":1.64,"y":47.82},{"p":2,"m":"R","d":"d","g":"2l","x":1.82,"y":47.46},{"p":2,"m":"R","d":"d","g":"2l","x":2.18,"y":47.38},{"p":2,"m":"R","d":"d","g":"2l","x":2.45,"y":47.46},{"p":2,"m":"R","d":"d","g":"2l","x":2.72,"y":47.62},{"p":2,"m":"R","d":"d","g":"2l","x":2.99,"y":47.54},{"p":2,"m":"R","d":"d","g":"2l","x":3.26,"y":47.30},{"p":2,"m":"R","d":"d","g":"2l","x":3.44,"y":46.98},{"p":2,"m":"R","d":"d","g":"2l","x":3.48,"y":46.43},{"p":2,"m":"R","d":"d","g":"2l","x":3.53,"y":45.95},{"p":2,"m":"R","d":"d","g":"2l","x":3.48,"y":45.40},{"p":2,"m":"R","d":"d","g":"2l","x":3.44,"y":44.84},{"p":2,"m":"R","d":"d","g":"2l","x":3.35,"y":44.29},{"p":2,"m":"R","d":"d","g":"2l","x":3.08,"y":44.05},{"p":2,"m":"R","d":"d","g":"2l","x":2.72,"y":43.97},{"p":2,"m":"R","d":"d","g":"2l","x":2.36,"y":43.77},{"p":2,"m":"R","d":"d","g":"2l","x":2.09,"y":43.73},{"p":2,"m":"R","d":"d","g":"2l","x":1.82,"y":43.85},{"p":2,"m":"R","d":"d","g":"2l","x":1.56,"y":44.05},{"p":2,"m":"R","d":"d","g":"2l","x":1.29,"y":43.97},{"p":2,"m":"R","d":"d","g":"2l","x":0.93,"y":43.85},{"p":2,"m":"R","d":"d","g":"2l","x":0.57,"y":43.89},{"p":2,"m":"R","d":"d","g":"2l","x":0.21,"y":44.05},{"p":2,"m":"R","d":"d","g":"2l","x":-0.15,"y":44.21},{"p":2,"m":"R","d":"d","g":"2l","x":-0.51,"y":44.25},{"p":2,"m":"R","d":"d","g":"2l","x":-0.77,"y":44.21},{"p":2,"m":"R","d":"d","g":"2l","x":-1.22,"y":44.29},{"p":2,"m":"R","d":"d","g":"2l","x":-1.67,"y":44.29},{"p":2,"m":"R","d":"d","g":"2l","x":-2.12,"y":44.33},{"p":2,"m":"R","d":"d","g":"2l","x":-2.39,"y":44.44},{"p":2,"m":"R","d":"d","g":"2l","x":-2.57,"y":44.84},{"p":2,"m":"R","d":"d","g":"2l","x":-2.84,"y":45.24},{"p":2,"m":"R","d":"d","g":"2l","x":-3.19,"y":45.79},{"p":2,"m":"R","d":"d","g":"2l","x":-3.33,"y":46.27},{"p":2,"m":"R","d":"d","g":"2l","x":-3.42,"y":46.75},{"p":2,"m":"R","d":"d","g":"2l","x":-3.46,"y":47.22},{"p":2,"m":"R","d":"d","g":"2l","x":-3.42,"y":47.78},{"p":2,"m":"R","d":"d","g":"2l","x":-3.33,"y":48.17},{"p":2,"m":"R","d":"d","g":"2l","x":-3.19,"y":48.57},
{"p":3,"m":"L","d":"s","g":"3a","x":-2.34,"y":47.38},{"p":3,"m":"L","d":"s","g":"3a","x":-2.03,"y":47.54},{"p":3,"m":"L","d":"s","g":"3a","x":-1.58,"y":47.54},{"p":3,"m":"L","d":"s","g":"3a","x":-1.22,"y":47.46},{"p":3,"m":"L","d":"s","g":"3a","x":-1.04,"y":47.22},{"p":3,"m":"L","d":"s","g":"3a","x":-0.86,"y":46.90},{"p":3,"m":"L","d":"s","g":"3a","x":-0.51,"y":46.67},{"p":3,"m":"L","d":"s","g":"3a","x":-0.15,"y":46.43},{"p":3,"m":"L","d":"s","g":"3a","x":0.12,"y":46.23},{"p":3,"m":"L","d":"s","g":"3a","x":0.30,"y":45.95},{"p":3,"m":"L","d":"s","g":"3a","x":0.57,"y":45.63},{"p":3,"m":"L","d":"s","g":"3a","x":0.84,"y":45.44},{"p":3,"m":"L","d":"s","g":"3a","x":0.88,"y":45.16},{"p":3,"m":"L","d":"s","g":"3a","x":0.75,"y":44.96},{"p":3,"m":"L","d":"s","g":"3a","x":0.39,"y":44.88},{"p":3,"m":"L","d":"s","g":"3a","x":0.03,"y":44.96},{"p":3,"m":"L","d":"s","g":"3a","x":-0.33,"y":45.08},{"p":3,"m":"L","d":"s","g":"3a","x":-0.77,"y":45.10},{"p":3,"m":"L","d":"s","g":"3a","x":-1.13,"y":45.16},{"p":3,"m":"L","d":"s","g":"3a","x":-1.58,"y":45.32},{"p":3,"m":"L","d":"s","g":"3a","x":-1.94,"y":45.48},{"p":3,"m":"L","d":"s","g":"3a","x":-2.21,"y":45.79},{"p":3,"m":"L","d":"s","g":"3a","x":-2.34,"y":46.27},{"p":3,"m":"L","d":"s","g":"3a","x":-2.39,"y":46.75},{"p":3,"m":"L","d":"s","g":"3a","x":-2.39,"y":47.14},
{"p":3,"m":"R","d":"s","g":"3b","x":-2.03,"y":47.62},{"p":3,"m":"R","d":"s","g":"3b","x":-1.85,"y":47.74},{"p":3,"m":"R","d":"s","g":"3b","x":-1.72,"y":47.70},{"p":3,"m":"R","d":"s","g":"3b","x":-1.63,"y":47.54},{"p":3,"m":"R","d":"s","g":"3b","x":-1.67,"y":47.30},{"p":3,"m":"R","d":"s","g":"3b","x":-1.58,"y":47.18},{"p":3,"m":"R","d":"s","g":"3b","x":-1.22,"y":47.22},{"p":3,"m":"R","d":"s","g":"3b","x":-0.86,"y":47.10},{"p":3,"m":"R","d":"s","g":"3b","x":-0.60,"y":46.90},{"p":3,"m":"R","d":"s","g":"3b","x":-0.33,"y":46.67},{"p":3,"m":"R","d":"s","g":"3b","x":-0.10,"y":46.35},{"p":3,"m":"R","d":"s","g":"3b","x":0.21,"y":46.31},{"p":3,"m":"R","d":"s","g":"3b","x":0.57,"y":46.31},{"p":3,"m":"R","d":"s","g":"3b","x":1.02,"y":46.27},{"p":3,"m":"R","d":"s","g":"3b","x":1.47,"y":46.11},{"p":3,"m":"R","d":"s","g":"3b","x":1.69,"y":45.63},{"p":3,"m":"R","d":"s","g":"3b","x":1.73,"y":45.16},{"p":3,"m":"R","d":"s","g":"3b","x":1.64,"y":44.68},{"p":3,"m":"R","d":"s","g":"3b","x":1.38,"y":44.37},{"p":3,"m":"R","d":"s","g":"3b","x":1.02,"y":44.21},{"p":3,"m":"R","d":"s","g":"3b","x":0.75,"y":44.21},{"p":3,"m":"R","d":"s","g":"3b","x":0.39,"y":44.33},{"p":3,"m":"R","d":"s","g":"3b","x":0.12,"y":44.48},{"p":3,"m":"R","d":"s","g":"3b","x":-0.15,"y":44.64},{"p":3,"m":"R","d":"s","g":"3b","x":-0.51,"y":44.64},{"p":3,"m":"R","d":"s","g":"3b","x":-0.86,"y":44.68},{"p":3,"m":"R","d":"s","g":"3b","x":-1.22,"y":44.64},{"p":3,"m":"R","d":"s","g":"3b","x":-1.58,"y":44.80},{"p":3,"m":"R","d":"s","g":"3b","x":-1.89,"y":45.08},{"p":3,"m":"R","d":"s","g":"3b","x":-2.12,"y":45.48},{"p":3,"m":"R","d":"s","g":"3b","x":-2.30,"y":45.95},{"p":3,"m":"R","d":"s","g":"3b","x":-2.34,"y":46.43},{"p":3,"m":"R","d":"s","g":"3b","x":-2.30,"y":46.90},{"p":3,"m":"R","d":"s","g":"3b","x":-2.34,"y":47.14},{"p":3,"m":"R","d":"s","g":"3b","x":-2.25,"y":47.30},{"p":3,"m":"R","d":"s","g":"3b","x":-2.12,"y":47.54},
{"p":3,"m":"R","d":"s","g":"3c","x":-0.13,"y":47.54},{"p":3,"m":"R","d":"s","g":"3c","x":-0.17,"y":47.61},{"p":3,"m":"R","d":"s","g":"3c","x":-0.25,"y":47.64},{"p":3,"m":"R","d":"s","g":"3c","x":-0.33,"y":47.61},{"p":3,"m":"R","d":"s","g":"3c","x":-0.37,"y":47.54},{"p":3,"m":"R","d":"s","g":"3c","x":-0.33,"y":47.47},{"p":3,"m":"R","d":"s","g":"3c","x":-0.25,"y":47.44},{"p":3,"m":"R","d":"s","g":"3c","x":-0.17,"y":47.47},
{"p":3,"m":"L","d":"d","g":"3d","x":-2.84,"y":47.74},{"p":3,"m":"L","d":"d","g":"3d","x":-2.57,"y":47.86},{"p":3,"m":"L","d":"d","g":"3d","x":-2.12,"y":47.98},{"p":3,"m":"L","d":"d","g":"3d","x":-1.58,"y":48.03},{"p":3,"m":"L","d":"d","g":"3d","x":-1.04,"y":47.98},{"p":3,"m":"L","d":"d","g":"3d","x":-0.51,"y":48.02},{"p":3,"m":"L","d":"d","g":"3d","x":0.03,"y":47.98},{"p":3,"m":"L","d":"d","g":"3d","x":0.39,"y":47.82},{"p":3,"m":"L","d":"d","g":"3d","x":0.75,"y":47.54},{"p":3,"m":"L","d":"d","g":"3d","x":1.02,"y":47.42},{"p":3,"m":"L","d":"d","g":"3d","x":1.15,"y":47.34},{"p":3,"m":"L","d":"d","g":"3d","x":1.11,"y":47.22},{"p":3,"m":"L","d":"d","g":"3d","x":0.84,"y":47.14},{"p":3,"m":"L","d":"d","g":"3d","x":0.66,"y":46.98},{"p":3,"m":"L","d":"d","g":"3d","x":0.61,"y":46.75},{"p":3,"m":"L","d":"d","g":"3d","x":0.75,"y":46.59},{"p":3,"m":"L","d":"d","g":"3d","x":1.11,"y":46.51},{"p":3,"m":"L","d":"d","g":"3d","x":1.20,"y":46.27},{"p":3,"m":"L","d":"d","g":"3d","x":1.38,"y":45.87},{"p":3,"m":"L","d":"d","g":"3d","x":1.56,"y":45.48},{"p":3,"m":"L","d":"d","g":"3d","x":1.69,"y":45.16},{"p":3,"m":"L","d":"d","g":"3d","x":1.64,"y":44.68},{"p":3,"m":"L","d":"d","g":"3d","x":1.47,"y":44.21},{"p":3,"m":"L","d":"d","g":"3d","x":1.29,"y":44.01},{"p":3,"m":"L","d":"d","g":"3d","x":1.02,"y":44.01},{"p":3,"m":"L","d":"d","g":"3d","x":0.66,"y":44.09},{"p":3,"m":"L","d":"d","g":"3d","x":0.30,"y":44.17},{"p":3,"m":"L","d":"d","g":"3d","x":-0.06,"y":44.37},{"p":3,"m":"L","d":"d","g":"3d","x":-0.33,"y":44.48},{"p":3,"m":"L","d":"d","g":"3d","x":-0.77,"y":44.48},{"p":3,"m":"L","d":"d","g":"3d","x":-1.22,"y":44.52},{"p":3,"m":"L","d":"d","g":"3d","x":-1.67,"y":44.56},{"p":3,"m":"L","d":"d","g":"3d","x":-2.03,"y":44.60},{"p":3,"m":"L","d":"d","g":"3d","x":-2.12,"y":44.92},{"p":3,"m":"L","d":"d","g":"3d","x":-2.30,"y":45.32},{"p":3,"m":"L","d":"d","g":"3d","x":-2.57,"y":45.79},{"p":3,"m":"L","d":"d","g":"3d","x":-2.75,"y":46.11},{"p":3,"m":"L","d":"d","g":"3d","x":-2.93,"y":46.43},{"p":3,"m":"L","d":"d","g":"3d","x":-3.06,"y":46.83},{"p":3,"m":"L","d":"d","g":"3d","x":-2.97,"y":47.22},{"p":3,"m":"L","d":"d","g":"3d","x":-2.88,"y":47.54},
{"p":3,"m":"R","d":"d","g":"3e","x":-2.30,"y":48.10},{"p":3,"m":"R","d":"d","g":"3e","x":-1.89,"y":48.17},{"p":3,"m":"R","d":"d","g":"3e","x":-1.58,"y":48.13},{"p":3,"m":"R","d":"d","g":"3e","x":-1.22,"y":48.02},{"p":3,"m":"R","d":"d","g":"3e","x":-0.68,"y":47.98},{"p":3,"m":"R","d":"d","g":"3e","x":-0.33,"y":47.94},{"p":3,"m":"R","d":"d","g":"3e","x":0.03,"y":47.94},{"p":3,"m":"R","d":"d","g":"3e","x":0.39,"y":47.82},{"p":3,"m":"R","d":"d","g":"3e","x":0.75,"y":47.66},{"p":3,"m":"R","d":"d","g":"3e","x":1.20,"y":47.62},{"p":3,"m":"R","d":"d","g":"3e","x":1.47,"y":47.70},{"p":3,"m":"R","d":"d","g":"3e","x":1.82,"y":47.82},{"p":3,"m":"R","d":"d","g":"3e","x":2.05,"y":47.78},{"p":3,"m":"R","d":"d","g":"3e","x":2.09,"y":47.62},{"p":3,"m":"R","d":"d","g":"3e","x":1.91,"y":47.46},{"p":3,"m":"R","d":"d","g":"3e","x":1.64,"y":47.38},{"p":3,"m":"R","d":"d","g":"3e","x":1.47,"y":47.22},{"p":3,"m":"R","d":"d","g":"3e","x":1.56,"y":46.98},{"p":3,"m":"R","d":"d","g":"3e","x":1.82,"y":46.67},{"p":3,"m":"R","d":"d","g":"3e","x":2.09,"y":46.27},{"p":3,"m":"R","d":"d","g":"3e","x":2.27,"y":45.71},{"p":3,"m":"R","d":"d","g":"3e","x":2.27,"y":45.16},{"p":3,"m":"R","d":"d","g":"3e","x":2.09,"y":44.68},{"p":3,"m":"R","d":"d","g":"3e","x":1.82,"y":44.29},{"p":3,"m":"R","d":"d","g":"3e","x":1.47,"y":43.97},{"p":3,"m":"R","d":"d","g":"3e","x":1.11,"y":43.73},{"p":3,"m":"R","d":"d","g":"3e","x":0.84,"y":43.49},{"p":3,"m":"R","d":"d","g":"3e","x":0.48,"y":43.57},{"p":3,"m":"R","d":"d","g":"3e","x":0.21,"y":43.73},{"p":3,"m":"R","d":"d","g":"3e","x":-0.15,"y":43.81},{"p":3,"m":"R","d":"d","g":"3e","x":-0.51,"y":43.77},{"p":3,"m":"R","d":"d","g":"3e","x":-0.95,"y":43.69},{"p":3,"m":"R","d":"d","g":"3e","x":-1.22,"y":43.81},{"p":3,"m":"R","d":"d","g":"3e","x":-1.40,"y":44.05},{"p":3,"m":"R","d":"d","g":"3e","x":-1.58,"y":44.21},{"p":3,"m":"R","d":"d","g":"3e","x":-1.94,"y":44.37},{"p":3,"m":"R","d":"d","g":"3e","x":-2.12,"y":44.52},{"p":3,"m":"R","d":"d","g":"3e","x":-2.21,"y":44.76},{"p":3,"m":"R","d":"d","g":"3e","x":-2.30,"y":45.08},{"p":3,"m":"R","d":"d","g":"3e","x":-2.48,"y":45.48},{"p":3,"m":"R","d":"d","g":"3e","x":-2.66,"y":45.87},{"p":3,"m":"R","d":"d","g":"3e","x":-2.75,"y":46.27},{"p":3,"m":"R","d":"d","g":"3e","x":-2.80,"y":46.75},{"p":3,"m":"R","d":"d","g":"3e","x":-2.84,"y":47.22},{"p":3,"m":"R","d":"d","g":"3e","x":-2.80,"y":47.62},{"p":3,"m":"R","d":"d","g":"3e","x":-2.66,"y":47.86}
],
"hist": [
{"p":1,"m":"L","x":-5,"y":0},{"p":1,"m":"L","x":-4.5,"y":0.038},{"p":1,"m":"L","x":-4,"y":0.148},{"p":1,"m":"L","x":-3.5,"y":0.343},{"p":1,"m":"L","x":-3,"y":0.332},{"p":1,"m":"L","x":-2.5,"y":0.244},{"p":1,"m":"L","x":-2,"y":0.184},{"p":1,"m":"L","x":-1.5,"y":0.123},{"p":1,"m":"L","x":-1,"y":0.082},{"p":1,"m":"L","x":-0.5,"y":0.055},{"p":1,"m":"L","x":0,"y":0.035},{"p":1,"m":"L","x":0.5,"y":0.024},{"p":1,"m":"L","x":1,"y":0.013},{"p":1,"m":"L","x":1.5,"y":0.020},{"p":1,"m":"L","x":2,"y":0.016},{"p":1,"m":"L","x":2.5,"y":0.033},{"p":1,"m":"L","x":3,"y":0.049},{"p":1,"m":"L","x":3.5,"y":0.148},{"p":1,"m":"L","x":4,"y":0.107},{"p":1,"m":"L","x":4.5,"y":0},
{"p":1,"m":"R","x":-5,"y":0.005},{"p":1,"m":"R","x":-4.5,"y":0.055},{"p":1,"m":"R","x":-4,"y":0.207},{"p":1,"m":"R","x":-3.5,"y":0.299},{"p":1,"m":"R","x":-3,"y":0.303},{"p":1,"m":"R","x":-2.5,"y":0.234},{"p":1,"m":"R","x":-2,"y":0.167},{"p":1,"m":"R","x":-1.5,"y":0.112},{"p":1,"m":"R","x":-1,"y":0.096},{"p":1,"m":"R","x":-0.5,"y":0.090},{"p":1,"m":"R","x":0,"y":0.088},{"p":1,"m":"R","x":0.5,"y":0.066},{"p":1,"m":"R","x":1,"y":0.053},{"p":1,"m":"R","x":1.5,"y":0.038},{"p":1,"m":"R","x":2,"y":0.038},{"p":1,"m":"R","x":2.5,"y":0.033},{"p":1,"m":"R","x":3,"y":0.044},{"p":1,"m":"R","x":3.5,"y":0.082},{"p":1,"m":"R","x":4,"y":0.003},{"p":1,"m":"R","x":4.5,"y":0},
{"p":2,"m":"L","x":-5,"y":0},{"p":2,"m":"L","x":-4.5,"y":0},{"p":2,"m":"L","x":-4,"y":0.009},{"p":2,"m":"L","x":-3.5,"y":0.063},{"p":2,"m":"L","x":-3,"y":0.236},{"p":2,"m":"L","x":-2.5,"y":0.363},{"p":2,"m":"L","x":-2,"y":0.346},{"p":2,"m":"L","x":-1.5,"y":0.234},{"p":2,"m":"L","x":-1,"y":0.152},{"p":2,"m":"L","x":-0.5,"y":0.110},{"p":2,"m":"L","x":0,"y":0.082},{"p":2,"m":"L","x":0.5,"y":0.044},{"p":2,"m":"L","x":1,"y":0.038},{"p":2,"m":"L","x":1.5,"y":0.049},{"p":2,"m":"L","x":2,"y":0.068},{"p":2,"m":"L","x":2.5,"y":0.077},{"p":2,"m":"L","x":3,"y":0.107},{"p":2,"m":"L","x":3.5,"y":0.025},{"p":2,"m":"L","x":4,"y":0.003},{"p":2,"m":"L","x":4.5,"y":0},
{"p":2,"m":"R","x":-5,"y":0.003},{"p":2,"m":"R","x":-4.5,"y":0.003},{"p":2,"m":"R","x":-4,"y":0.016},{"p":2,"m":"R","x":-3.5,"y":0.101},{"p":2,"m":"R","x":-3,"y":0.264},{"p":2,"m":"R","x":-2.5,"y":0.333},{"p":2,"m":"R","x":-2,"y":0.284},{"p":2,"m":"R","x":-1.5,"y":0.203},{"p":2,"m":"R","x":-1,"y":0.137},{"p":2,"m":"R","x":-0.5,"y":0.096},{"p":2,"m":"R","x":0,"y":0.086},{"p":2,"m":"R","x":0.5,"y":0.096},{"p":2,"m":"R","x":1,"y":0.085},{"p":2,"m":"R","x":1.5,"y":0.071},{"p":2,"m":"R","x":2,"y":0.075},{"p":2,"m":"R","x":2.5,"y":0.096},{"p":2,"m":"R","x":3,"y":0.044},{"p":2,"m":"R","x":3.5,"y":0.003},{"p":2,"m":"R","x":4,"y":0.003},{"p":2,"m":"R","x":4.5,"y":0},
{"p":3,"m":"L","x":-5,"y":0},{"p":3,"m":"L","x":-4.5,"y":0},{"p":3,"m":"L","x":-4,"y":0},{"p":3,"m":"L","x":-3.5,"y":0.005},{"p":3,"m":"L","x":-3,"y":0.038},{"p":3,"m":"L","x":-2.5,"y":0.192},{"p":3,"m":"L","x":-2,"y":0.440},{"p":3,"m":"L","x":-1.5,"y":0.420},{"p":3,"m":"L","x":-1,"y":0.321},{"p":3,"m":"L","x":-0.5,"y":0.233},{"p":3,"m":"L","x":0,"y":0.163},{"p":3,"m":"L","x":0.5,"y":0.129},{"p":3,"m":"L","x":1,"y":0.058},{"p":3,"m":"L","x":1.5,"y":0.011},{"p":3,"m":"L","x":2,"y":0.003},{"p":3,"m":"L","x":2.5,"y":0},{"p":3,"m":"L","x":3,"y":0},{"p":3,"m":"L","x":3.5,"y":0},{"p":3,"m":"L","x":4,"y":0},{"p":3,"m":"L","x":4.5,"y":0},
{"p":3,"m":"R","x":-5,"y":0},{"p":3,"m":"R","x":-4.5,"y":0},{"p":3,"m":"R","x":-4,"y":0},{"p":3,"m":"R","x":-3.5,"y":0.003},{"p":3,"m":"R","x":-3,"y":0.046},{"p":3,"m":"R","x":-2.5,"y":0.209},{"p":3,"m":"R","x":-2,"y":0.385},{"p":3,"m":"R","x":-1.5,"y":0.341},{"p":3,"m":"R","x":-1,"y":0.266},{"p":3,"m":"R","x":-0.5,"y":0.170},{"p":3,"m":"R","x":0,"y":0.167},{"p":3,"m":"R","x":0.5,"y":0.187},{"p":3,"m":"R","x":1,"y":0.148},{"p":3,"m":"R","x":1.5,"y":0.069},{"p":3,"m":"R","x":2,"y":0.011},{"p":3,"m":"R","x":2.5,"y":0.003},{"p":3,"m":"R","x":3,"y":0},{"p":3,"m":"R","x":3.5,"y":0},{"p":3,"m":"R","x":4,"y":0},{"p":3,"m":"R","x":4.5,"y":0}
]
},
"columns": 3,
"spacing": 0,
"bounds": "flush",
"resolve": {"scale": {"x": "independent", "y": "independent", "color": "independent", "strokeDash": "independent"}},
"concat": [
{
 "width": 372, "height": 336,
 "title": {"text": "20 M⊙ Env."},
 "resolve": {"scale": {"x": "independent", "y": "independent"}},
 "layer": [
  {"data": {"name": "contours"}, "transform": [{"filter": "datum.p == 1"}],
   "mark": {"type": "line", "interpolate": "cardinal-closed", "strokeWidth": 2.5, "clip": true},
   "encoding": {
    "x": {"field": "x", "type": "quantitative", "scale": {"domain": [-5.02, 5.02], "nice": false, "zero": false}, "axis": {"orient": "bottom", "values": [-4, -2, 0, 2, 4], "labels": false, "title": null, "tickSize": -6}},
    "y": {"field": "y", "type": "quantitative", "scale": {"domain": [42.53, 50.53], "nice": false, "zero": false}, "axis": {"orient": "left", "values": [44, 46, 48, 50], "labelExpr": "datum.value == 50 ? '10⁵⁰' : datum.value == 48 ? '10⁴⁸' : datum.value == 46 ? '10⁴⁶' : '10⁴⁴'", "tickSize": -6, "labelPadding": 7, "title": "Spec. Energy Δe [erg/M⊙]", "titlePadding": 10}},
    "color": {"field": "m", "type": "nominal", "scale": {"domain": ["L", "R"], "range": ["#e8432e", "#5cb15c"]}, "legend": null},
    "strokeDash": {"field": "d", "type": "nominal", "scale": {"domain": ["s", "d"], "range": [[1, 0], [9, 4.5]]}, "legend": null},
    "opacity": {"condition": {"test": "datum.m == 'R'", "value": 0.6}, "value": 1},
    "detail": {"field": "g", "type": "nominal"},
    "order": {"value": null}
   }},
  {"data": {"values": [{"x": -5.02, "x2": 5.02, "y": 46.27}]},
   "mark": {"type": "rule", "color": "#aaaaaa", "strokeWidth": 2.5, "strokeDash": [8, 4.5]},
   "encoding": {
    "x": {"field": "x", "type": "quantitative", "scale": {"domain": [-5.02, 5.02], "nice": false, "zero": false}, "axis": {"orient": "top", "values": [-4, -2, 0, 2, 4], "labels": false, "title": null, "tickSize": -6}},
    "x2": {"field": "x2"},
    "y": {"field": "y", "type": "quantitative", "scale": {"domain": [42.53, 50.53], "nice": false, "zero": false}, "axis": {"orient": "right", "values": [44, 46, 48, 50], "labels": false, "title": null, "tickSize": -6}}
   }}
 ]
},
{
 "width": 372, "height": 336,
 "title": {"text": "200 M⊙ Env."},
 "resolve": {"scale": {"x": "independent", "y": "independent"}},
 "layer": [
  {"data": {"name": "contours"}, "transform": [{"filter": "datum.p == 2"}],
   "mark": {"type": "line", "interpolate": "cardinal-closed", "strokeWidth": 2.5, "clip": true},
   "encoding": {
    "x": {"field": "x", "type": "quantitative", "scale": {"domain": [-5.02, 5.02], "nice": false, "zero": false}, "axis": {"orient": "bottom", "values": [-4, -2, 0, 2, 4], "labels": false, "title": null, "tickSize": -6}},
    "y": {"field": "y", "type": "quantitative", "scale": {"domain": [42.53, 50.53], "nice": false, "zero": false}, "axis": {"orient": "left", "values": [44, 46, 48, 50], "labels": false, "title": null, "tickSize": -6}},
    "color": {"field": "m", "type": "nominal", "scale": {"domain": ["L", "R"], "range": ["#e8432e", "#5cb15c"]}, "legend": null},
    "strokeDash": {"field": "d", "type": "nominal", "scale": {"domain": ["s", "d"], "range": [[1, 0], [9, 4.5]]}, "legend": null},
    "opacity": {"condition": {"test": "datum.m == 'R'", "value": 0.6}, "value": 1},
    "detail": {"field": "g", "type": "nominal"},
    "order": {"value": null}
   }},
  {"data": {"values": [{"x": -5.02, "x2": 5.02, "y": 46.27}]},
   "mark": {"type": "rule", "color": "#aaaaaa", "strokeWidth": 2.5, "strokeDash": [8, 4.5]},
   "encoding": {
    "x": {"field": "x", "type": "quantitative", "scale": {"domain": [-5.02, 5.02], "nice": false, "zero": false}, "axis": {"orient": "top", "values": [-4, -2, 0, 2, 4], "labels": false, "title": null, "tickSize": -6}},
    "x2": {"field": "x2"},
    "y": {"field": "y", "type": "quantitative", "scale": {"domain": [42.53, 50.53], "nice": false, "zero": false}, "axis": {"orient": "right", "values": [44, 46, 48, 50], "labels": false, "title": null, "tickSize": -6}}
   }}
 ]
},
{
 "width": 372, "height": 336,
 "title": {"text": "2000 M⊙ Env."},
 "resolve": {"scale": {"x": "independent", "y": "independent"}},
 "layer": [
  {"data": {"name": "contours"}, "transform": [{"filter": "datum.p == 3"}],
   "mark": {"type": "line", "interpolate": "cardinal-closed", "strokeWidth": 2.5, "clip": true},
   "encoding": {
    "x": {"field": "x", "type": "quantitative", "scale": {"domain": [-5.02, 5.02], "nice": false, "zero": false}, "axis": {"orient": "bottom", "values": [-4, -2, 0, 2, 4], "labels": false, "title": null, "tickSize": -6}},
    "y": {"field": "y", "type": "quantitative", "scale": {"domain": [42.53, 50.53], "nice": false, "zero": false}, "axis": {"orient": "left", "values": [44, 46, 48, 50], "labels": false, "title": null, "tickSize": -6}},
    "color": {"field": "m", "type": "nominal", "scale": {"domain": ["L", "R"], "range": ["#e8432e", "#5cb15c"]}, "legend": {"orient": "top-right", "offset": 11, "title": null, "symbolType": "M-4.4,0H4.4", "symbolSize": 100, "symbolStrokeWidth": 3.5, "symbolOpacity": 1, "labelFontSize": 19, "labelFont": "DejaVu Sans", "labelColor": "black", "labelOffset": 30, "padding": 9, "rowPadding": 9, "strokeColor": "#cccccc", "fillColor": "white", "cornerRadius": 4, "labelExpr": "datum.label == 'L' ? 'LYRA (H.Res)' : 'RIGEL (H.Res)'"}},
    "strokeDash": {"field": "d", "type": "nominal", "scale": {"domain": ["s", "d"], "range": [[1, 0], [9, 4.5]]}, "legend": null},
    "opacity": {"condition": {"test": "datum.m == 'R'", "value": 0.6}, "value": 1},
    "detail": {"field": "g", "type": "nominal"},
    "order": {"value": null}
   }},
  {"data": {"values": [{"x": -5.02, "x2": 5.02, "y": 46.27}]},
   "mark": {"type": "rule", "color": "#aaaaaa", "strokeWidth": 2.5, "strokeDash": [8, 4.5]},
   "encoding": {
    "x": {"field": "x", "type": "quantitative", "scale": {"domain": [-5.02, 5.02], "nice": false, "zero": false}, "axis": {"orient": "top", "values": [-4, -2, 0, 2, 4], "labels": false, "title": null, "tickSize": -6}},
    "x2": {"field": "x2"},
    "y": {"field": "y", "type": "quantitative", "scale": {"domain": [42.53, 50.53], "nice": false, "zero": false}, "axis": {"orient": "right", "values": [44, 46, 48, 50], "labels": false, "title": null, "tickSize": -6}}
   }},
  {"data": {"values": [
     {"t": "v ∼ v", "k": "i", "x": 1.215, "y": 46.42},
     {"t": "R", "k": "i", "x": 3.26, "y": 46.42},
     {"t": "(", "k": "n", "x": 3.07, "y": 46.42},
     {"t": ")", "k": "n", "x": 4.56, "y": 46.42},
     {"t": "circ", "k": "s", "x": 2.4, "y": 46.35},
     {"t": "scale", "k": "s", "x": 3.6, "y": 46.35}
   ]},
   "encoding": {
    "x": {"field": "x", "type": "quantitative", "scale": {"domain": [-5.02, 5.02], "nice": false, "zero": false}, "axis": null},
    "y": {"field": "y", "type": "quantitative", "scale": {"domain": [42.53, 50.53], "nice": false, "zero": false}, "axis": {"orient": "right", "values": [44, 46, 48, 50], "labelExpr": "format((datum.value - 43) / 2, '.1f')", "labelFontSize": 18, "tickSize": 6, "labelPadding": 6, "title": "log10 Equiv. Velocity [km/s]", "titleFontSize": 18.5, "titlePadding": 16, "titleAngle": 270, "titleBaseline": "top"}},
    "text": {"field": "t"}
   },
   "layer": [
    {"transform": [{"filter": "datum.k == 'i'"}], "mark": {"type": "text", "align": "left", "baseline": "alphabetic", "fontSize": 17, "fontStyle": "italic", "color": "#999999"}},
    {"transform": [{"filter": "datum.k == 'n'"}], "mark": {"type": "text", "align": "left", "baseline": "alphabetic", "fontSize": 17, "color": "#999999"}},
    {"transform": [{"filter": "datum.k == 's'"}], "mark": {"type": "text", "align": "left", "baseline": "alphabetic", "fontSize": 14, "color": "#999999"}}
   ]}
 ]
},
{
 "width": 372, "height": 170,
 "resolve": {"scale": {"x": "independent", "y": "independent"}},
 "layer": [
  {"data": {"name": "hist"}, "transform": [{"filter": "datum.p == 1 && datum.m == 'L'"}],
   "mark": {"type": "line", "interpolate": "step-after", "strokeWidth": 3, "opacity": 0.65},
   "encoding": {
    "x": {"field": "x", "type": "quantitative", "scale": {"domain": [-5.02, 5.02], "nice": false, "zero": false}, "axis": {"orient": "bottom", "values": [-4, -2, 0, 2, 4], "labelExpr": "datum.value == -4 ? '10⁻⁴' : datum.value == -2 ? '10⁻²' : datum.value == 0 ? '10⁰' : datum.value == 2 ? '10²' : '10⁴'", "tickSize": -6, "labelPadding": 5, "title": null}},
    "y": {"field": "y", "type": "quantitative", "scale": {"domain": [0, 0.553], "nice": false, "zero": false}, "axis": {"orient": "left", "values": [0, 0.2, 0.4], "format": ".1f", "tickSize": -6, "labelPadding": 7, "title": "Likelihood", "titlePadding": 10}},
    "color": {"field": "m", "type": "nominal", "scale": {"domain": ["L", "R"], "range": ["#e8432e", "#5cb15c"]}, "legend": null}
   }},
  {"data": {"name": "hist"}, "transform": [{"filter": "datum.p == 1 && datum.m == 'R'"}],
   "mark": {"type": "line", "interpolate": "step-after", "strokeWidth": 3, "opacity": 0.85},
   "encoding": {
    "x": {"field": "x", "type": "quantitative", "scale": {"domain": [-5.02, 5.02], "nice": false, "zero": false}, "axis": {"orient": "top", "values": [-4, -2, 0, 2, 4], "labels": false, "title": null, "tickSize": -6}},
    "y": {"field": "y", "type": "quantitative", "scale": {"domain": [0, 0.553], "nice": false, "zero": false}, "axis": {"orient": "right", "values": [0, 0.2, 0.4], "labels": false, "title": null, "tickSize": -6}},
    "color": {"field": "m", "type": "nominal", "scale": {"domain": ["L", "R"], "range": ["#e8432e", "#5cb15c"]}, "legend": null}
   }}
 ]
},
{
 "width": 372, "height": 170,
 "resolve": {"scale": {"x": "independent", "y": "independent"}},
 "layer": [
  {"data": {"name": "hist"}, "transform": [{"filter": "datum.p == 2 && datum.m == 'L'"}],
   "mark": {"type": "line", "interpolate": "step-after", "strokeWidth": 3, "opacity": 0.65},
   "encoding": {
    "x": {"field": "x", "type": "quantitative", "scale": {"domain": [-5.02, 5.02], "nice": false, "zero": false}, "axis": {"orient": "bottom", "values": [-4, -2, 0, 2, 4], "labelExpr": "datum.value == -4 ? '10⁻⁴' : datum.value == -2 ? '10⁻²' : datum.value == 0 ? '10⁰' : datum.value == 2 ? '10²' : '10⁴'", "tickSize": -6, "labelPadding": 5, "title": "Density [cm⁻³]", "titlePadding": 8}},
    "y": {"field": "y", "type": "quantitative", "scale": {"domain": [0, 0.553], "nice": false, "zero": false}, "axis": {"orient": "left", "values": [0, 0.2, 0.4], "labels": false, "title": null, "tickSize": -6}},
    "color": {"field": "m", "type": "nominal", "scale": {"domain": ["L", "R"], "range": ["#e8432e", "#5cb15c"]}, "legend": null}
   }},
  {"data": {"name": "hist"}, "transform": [{"filter": "datum.p == 2 && datum.m == 'R'"}],
   "mark": {"type": "line", "interpolate": "step-after", "strokeWidth": 3, "opacity": 0.85},
   "encoding": {
    "x": {"field": "x", "type": "quantitative", "scale": {"domain": [-5.02, 5.02], "nice": false, "zero": false}, "axis": {"orient": "top", "values": [-4, -2, 0, 2, 4], "labels": false, "title": null, "tickSize": -6}},
    "y": {"field": "y", "type": "quantitative", "scale": {"domain": [0, 0.553], "nice": false, "zero": false}, "axis": {"orient": "right", "values": [0, 0.2, 0.4], "labels": false, "title": null, "tickSize": -6}},
    "color": {"field": "m", "type": "nominal", "scale": {"domain": ["L", "R"], "range": ["#e8432e", "#5cb15c"]}, "legend": null}
   }}
 ]
},
{
 "width": 372, "height": 170,
 "resolve": {"scale": {"x": "independent", "y": "independent"}},
 "layer": [
  {"data": {"name": "hist"}, "transform": [{"filter": "datum.p == 3 && datum.m == 'L'"}],
   "mark": {"type": "line", "interpolate": "step-after", "strokeWidth": 3, "opacity": 0.65},
   "encoding": {
    "x": {"field": "x", "type": "quantitative", "scale": {"domain": [-5.02, 5.02], "nice": false, "zero": false}, "axis": {"orient": "bottom", "values": [-4, -2, 0, 2, 4], "labelExpr": "datum.value == -4 ? '10⁻⁴' : datum.value == -2 ? '10⁻²' : datum.value == 0 ? '10⁰' : datum.value == 2 ? '10²' : '10⁴'", "tickSize": -6, "labelPadding": 5, "title": null}},
    "y": {"field": "y", "type": "quantitative", "scale": {"domain": [0, 0.553], "nice": false, "zero": false}, "axis": {"orient": "left", "values": [0, 0.2, 0.4], "labels": false, "title": null, "tickSize": -6}},
    "color": {"field": "m", "type": "nominal", "scale": {"domain": ["L", "R"], "range": ["#e8432e", "#5cb15c"]}, "legend": null}
   }},
  {"data": {"name": "hist"}, "transform": [{"filter": "datum.p == 3 && datum.m == 'R'"}],
   "mark": {"type": "line", "interpolate": "step-after", "strokeWidth": 3, "opacity": 0.85},
   "encoding": {
    "x": {"field": "x", "type": "quantitative", "scale": {"domain": [-5.02, 5.02], "nice": false, "zero": false}, "axis": {"orient": "top", "values": [-4, -2, 0, 2, 4], "labels": false, "title": null, "tickSize": -6}},
    "y": {"field": "y", "type": "quantitative", "scale": {"domain": [0, 0.553], "nice": false, "zero": false}, "axis": {"orient": "right", "values": [0, 0.2, 0.4], "labels": false, "title": null, "tickSize": -6}},
    "color": {"field": "m", "type": "nominal", "scale": {"domain": ["L", "R"], "range": ["#e8432e", "#5cb15c"]}, "legend": null}
   }}
 ]
}
]
}
